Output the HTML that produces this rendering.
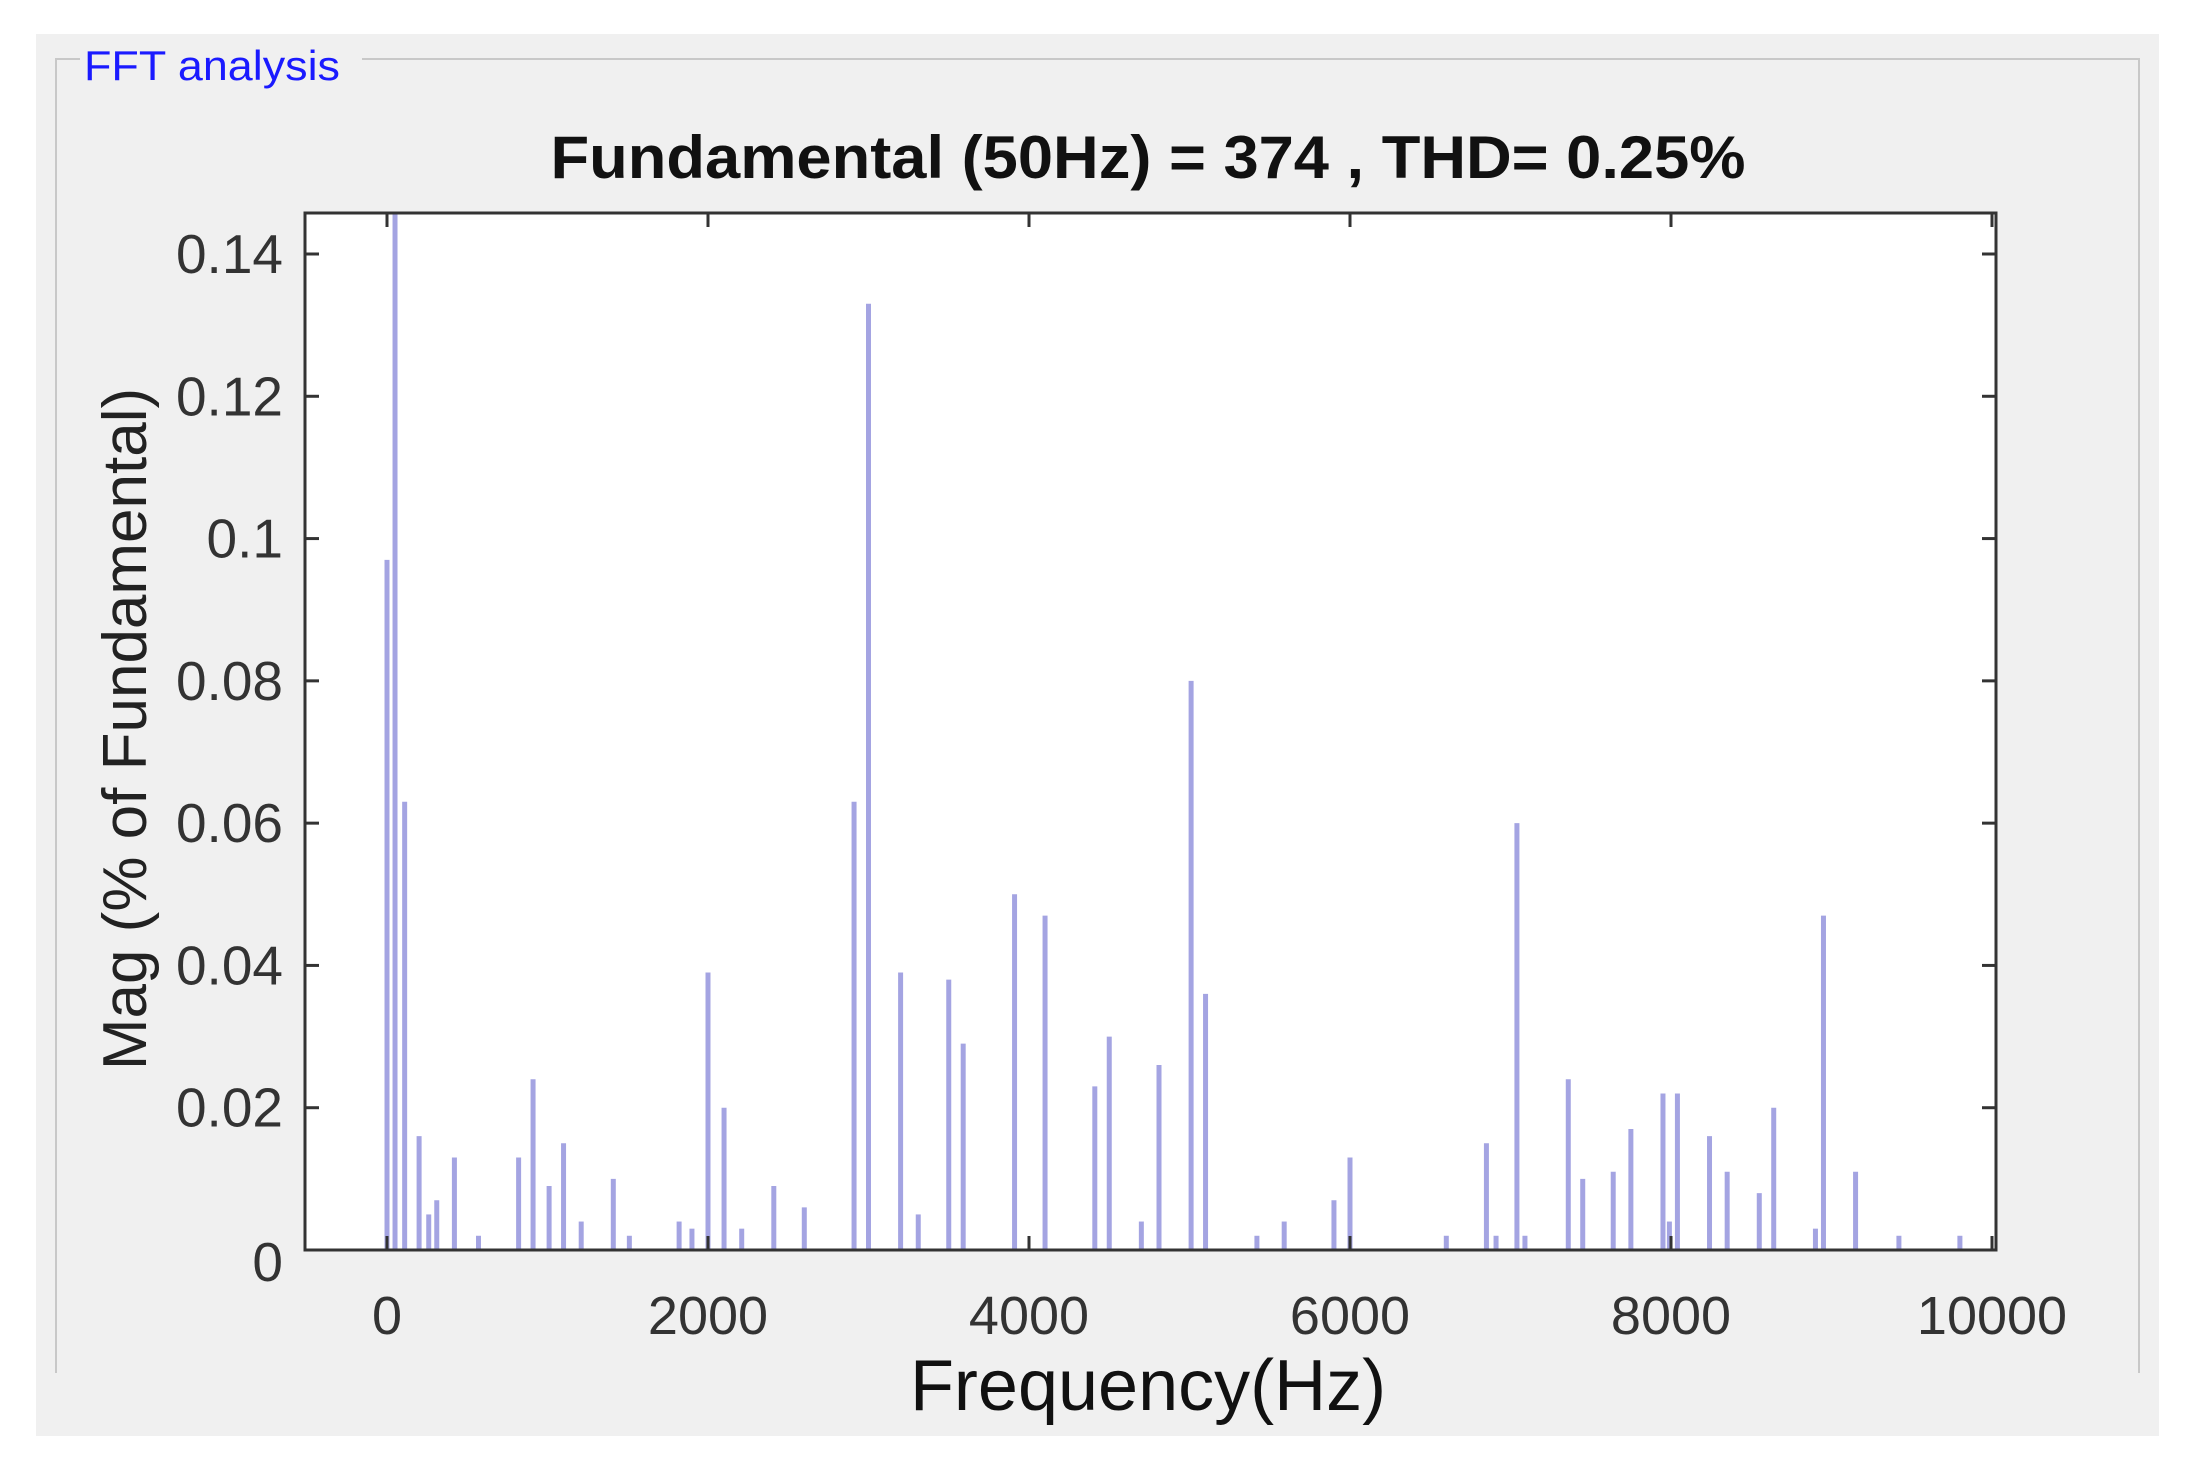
<!DOCTYPE html>
<html><head><meta charset="utf-8"><style>
html,body{margin:0;padding:0;background:#fff;}
body{width:2197px;height:1470px;position:relative;overflow:hidden;font-family:"Liberation Sans",sans-serif;}
</style></head><body>
<svg width="2197" height="1470" viewBox="0 0 2197 1470" xmlns="http://www.w3.org/2000/svg">
<rect x="36" y="34" width="2123" height="1402" fill="#f0f0f0"/>
<path d="M56 1373 V59 H80 M362 59 H2139 V1373" fill="none" stroke="#c8c8c8" stroke-width="2"/>
<text x="84" y="80" font-size="42" fill="#1a1aff" textLength="256" lengthAdjust="spacingAndGlyphs">FFT analysis</text>
<text x="1148" y="178" font-size="60" font-weight="bold" text-anchor="middle" fill="#111" textLength="1195" lengthAdjust="spacingAndGlyphs">Fundamental (50Hz) = 374 , THD= 0.25%</text>
<rect x="305" y="213" width="1691" height="1037" fill="#fff"/>
<g id="bars"></g>
<g id="axes"></g>
<text x="1148" y="1410" font-size="72" text-anchor="middle" fill="#111">Frequency(Hz)</text>
<text transform="translate(146,729) rotate(-90)" font-size="62" text-anchor="middle" fill="#222">Mag (% of Fundamental)</text>
</svg>
<script>
const freqs=[0,50,110,200,260,310,420,570,820,910,1010,1100,1210,1410,1510,1820,1900,2000,2100,2210,2410,2600,2910,3000,3200,3310,3500,3590,3910,4100,4410,4500,4700,4810,5010,5100,5420,5590,5900,6000,6600,6850,6910,7040,7090,7360,7450,7640,7750,7950,7990,8040,8240,8350,8550,8640,8900,8950,9150,9420,9800];
const mags=[0.097,0.16,0.063,0.016,0.005,0.007,0.013,0.002,0.013,0.024,0.009,0.015,0.004,0.010,0.002,0.004,0.003,0.039,0.020,0.003,0.009,0.006,0.063,0.133,0.039,0.005,0.038,0.029,0.050,0.047,0.023,0.030,0.004,0.026,0.080,0.036,0.002,0.004,0.007,0.013,0.002,0.015,0.002,0.060,0.002,0.024,0.010,0.011,0.017,0.022,0.004,0.022,0.016,0.011,0.008,0.020,0.003,0.047,0.011,0.002,0.002];
const xTicks=[0,2000,4000,6000,8000,10000];
const xTickLabels=["0","2000","4000","6000","8000","10000"];
const yTicks=[0,0.02,0.04,0.06,0.08,0.1,0.12,0.14];
const yTickLabels=["0","0.02","0.04","0.06","0.08","0.1","0.12","0.14"];
const L=305,R=1996,T=213,B=1250;
const X=f=>387+f*(1992-387)/10000;
const Y=v=>Math.max(T,B-v*(B-254)/0.14);
const NS="http://www.w3.org/2000/svg";
const bars=document.getElementById('bars'),axes=document.getElementById('axes');
function mk(t,a,p){const e=document.createElementNS(NS,t);for(const k in a)e.setAttribute(k,a[k]);p.appendChild(e);return e;}
freqs.forEach((f,i)=>{
 const e=mk('line',{x1:X(f),x2:X(f),y1:B,y2:Y(mags[i]),stroke:'#a4a4e2','stroke-width':5},bars);
 
 
});
const fr=mk('rect',{x:L,y:T,width:R-L,height:B-T,fill:'none',stroke:'#333','stroke-width':3},axes);


xTicks.forEach((v,i)=>{
 const x=X(v);
 if(x<R-2){mk('line',{x1:x,x2:x,y1:B,y2:B-14,stroke:'#333','stroke-width':3},axes);mk('line',{x1:x,x2:x,y1:T,y2:T+14,stroke:'#333','stroke-width':3},axes);}
 const t=mk('text',{x:x,y:B+84,'font-size':54,'text-anchor':'middle',fill:'#333'},axes);
 t.textContent=xTickLabels[i];
 
 
});
yTicks.forEach((v,i)=>{
 const y=Y(v);
 mk('line',{x1:L,x2:L+14,y1:y,y2:y,stroke:'#333','stroke-width':3},axes);
 mk('line',{x1:R,x2:R-14,y1:y,y2:y,stroke:'#333','stroke-width':3},axes);
 const t=mk('text',{x:283,y:y+19+(v===0?12:0),'font-size':55,'text-anchor':'end',fill:'#333'},axes);
 t.textContent=yTickLabels[i];
 
 
});
</script>
</body></html>
